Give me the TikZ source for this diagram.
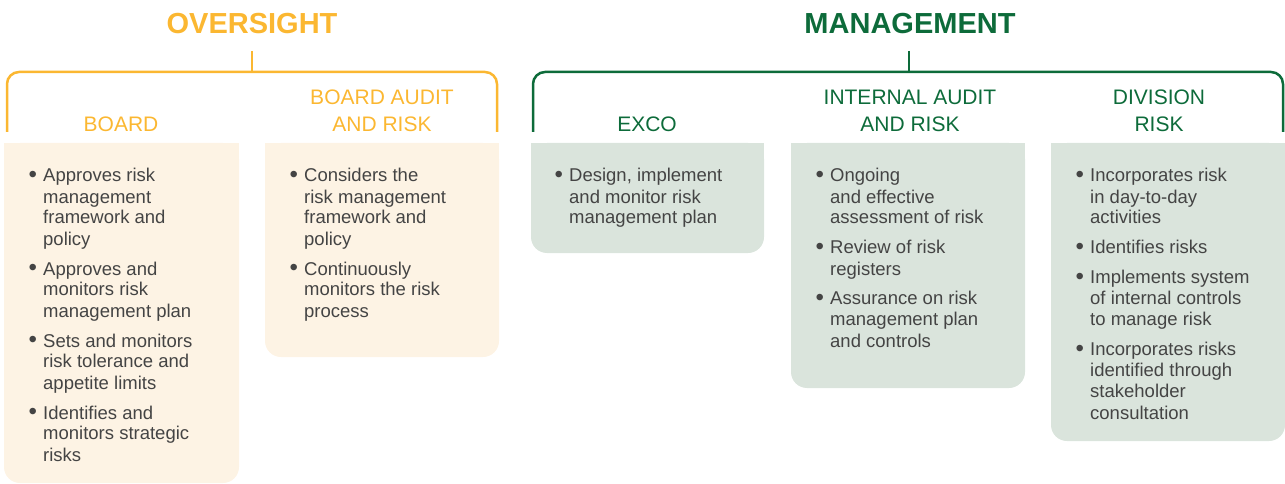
\documentclass[tikz,border=0pt]{standalone}
\usepackage{fontspec}
\setmainfont{Liberation Sans}

\definecolor{ovc}{HTML}{FBB731}
\definecolor{ovbox}{HTML}{FDF3E4}
\definecolor{mgc}{HTML}{0D6B3A}
\definecolor{mgbox}{HTML}{DAE4DC}
\definecolor{bodyc}{HTML}{444444}

% one bullet item (hanging indent, manual line breaks) and the gap between items
\newcommand\bmark{\hspace{1.5pt}\raisebox{-0.6pt}{\scalebox{1.3}{\textbullet}}}
\newcommand\bitem[1]{\par\noindent\hangindent=16pt\hangafter=1
  \makebox[16pt][l]{\bmark}\let\\\newline #1\par}
\newcommand\bgap{\vspace{9pt}}
\newcommand\blist[1]{\begin{minipage}[t]{240pt}\fontsize{18.5}{21}\selectfont
  #1\end{minipage}}

\tikzset{
  title/.style={inner sep=0, font=\fontsize{29}{32}\selectfont\bfseries},
  head/.style={inner sep=0, align=center, font=\fontsize{21}{27}\selectfont},
  items/.style={inner sep=0, anchor=base west, text=bodyc},
  bracket/.style={line width=2.5pt, rounded corners=12pt},
}

\begin{document}
\begin{tikzpicture}[x=1pt, y=-1pt]
\useasboundingbox (0,0) rectangle (1285,484);

% ---------- box backgrounds (square top, rounded bottom) ----------
\foreach \xa/\xb/\yb/\col in {4/239/483/ovbox, 265/499/357/ovbox,
    531/764/253/mgbox, 791/1025/388/mgbox, 1051/1285/441/mgbox}{
  \fill[\col, rounded corners=16pt] (\xa,143) rectangle (\xb,\yb);
  \fill[\col] (\xa,143) rectangle (\xb,190);
}

% ---------- oversight ----------
\node[title, text=ovc] (over) at (252,23.5) {OVERSIGHT};
\coordinate (overjoin) at (252,72);
\draw[ovc, line width=2.5pt] (252,51) -- (overjoin);
\draw[ovc, bracket] (7,132) -- (7,72) -- (497,72) -- (497,132);

\node[head, text=ovc] (board) at (121,124) {BOARD};
\node[head, text=ovc] (bar) at (382,110.5) {BOARD AUDIT\\AND RISK};

\node[items] (boardtxt) at (27,182) {\blist{%
  \bitem{Approves risk\\management\\framework and\\policy}\bgap
  \bitem{Approves and\\monitors risk\\management plan}\bgap
  \bitem{Sets and monitors\\risk tolerance and\\appetite limits}\bgap
  \bitem{Identifies and\\monitors strategic\\risks}}};

\node[items] (bartxt) at (288,182) {\blist{%
  \bitem{Considers the\\risk management\\framework and\\policy}\bgap
  \bitem{Continuously\\monitors the risk\\process}}};

% ---------- management ----------
\node[title, text=mgc] (mgmt) at (910,23.5) {MANAGEMENT};
\coordinate (mgmtjoin) at (909,72);
\draw[mgc, line width=2.5pt] (909,51) -- (mgmtjoin);
\draw[mgc, bracket] (533,132) -- (533,72) -- (1283,72) -- (1283,132);

\node[head, text=mgc] (exco) at (647,124) {EXCO};
\node[head, text=mgc] (iar) at (910,110.5) {INTERNAL AUDIT\\AND RISK};
\node[head, text=mgc] (div) at (1159,110.5) {DIVISION\\RISK};

\node[items] (excotxt) at (553,182) {\blist{%
  \bitem{Design, implement\\and monitor risk\\management plan}}};

\node[items] (iartxt) at (814,182) {\blist{%
  \bitem{Ongoing\\and effective\\assessment of risk}\bgap
  \bitem{Review of risk\\registers}\bgap
  \bitem{Assurance on risk\\management plan\\and controls}}};

\node[items] (divtxt) at (1074,182) {\blist{%
  \bitem{Incorporates risk\\in day-to-day\\activities}\bgap
  \bitem{Identifies risks}\bgap
  \bitem{Implements system\\of internal controls\\to manage risk}\bgap
  \bitem{Incorporates risks\\identified through\\stakeholder\\consultation}}};

\end{tikzpicture}
\end{document}
